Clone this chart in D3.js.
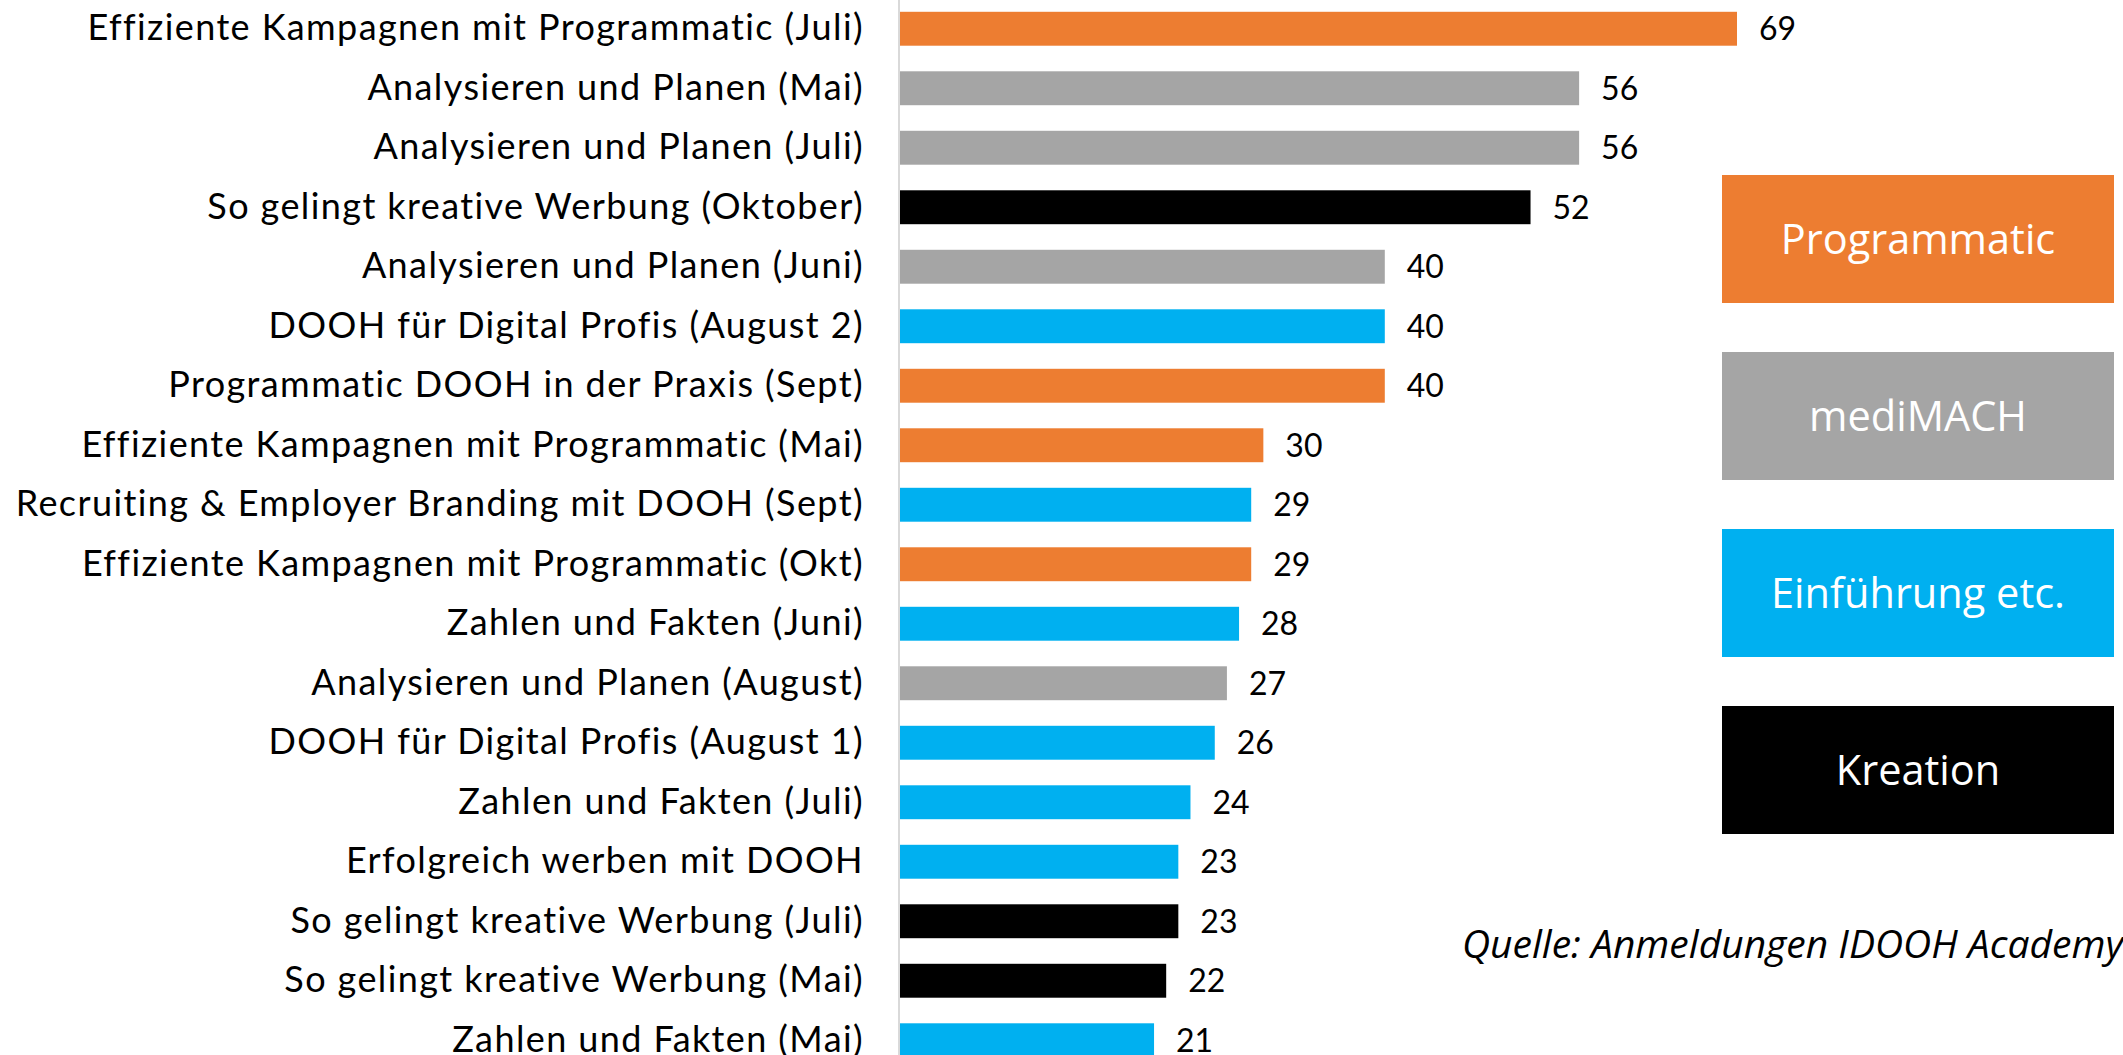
<!DOCTYPE html>
<html>
<head>
<meta charset="utf-8">
<script src="https://cdn.jsdelivr.net/npm/d3@7"></script>
<style>
    body { margin: 0; background: #fff; overflow: hidden; }
    svg { display: block; }
</style>
</head>
<body>
<div id="chart"></div>
<script>
// Kurse, sortiert nach Anmeldungen
const courses = [
    "Effiziente Kampagnen mit Programmatic (Juli)",
    "Analysieren und Planen (Mai)",
    "Analysieren und Planen (Juli)",
    "So gelingt kreative Werbung (Oktober)",
    "Analysieren und Planen (Juni)",
    "DOOH für Digital Profis (August 2)",
    "Programmatic DOOH in der Praxis (Sept)",
    "Effiziente Kampagnen mit Programmatic (Mai)",
    "Recruiting & Employer Branding mit DOOH (Sept)",
    "Effiziente Kampagnen mit Programmatic (Okt)",
    "Zahlen und Fakten (Juni)",
    "Analysieren und Planen (August)",
    "DOOH für Digital Profis (August 1)",
    "Zahlen und Fakten (Juli)",
    "Erfolgreich werben mit DOOH",
    "So gelingt kreative Werbung (Juli)",
    "So gelingt kreative Werbung (Mai)",
    "Zahlen und Fakten (Mai)"
];
const registrations = [69, 56, 56, 52, 40, 40, 40, 30, 29, 29, 28, 27, 26, 24, 23, 23, 22, 21];
const courseGroups = [
    "Programmatic", "mediMACH", "mediMACH", "Kreation", "mediMACH", "Einführung etc.",
    "Programmatic", "Programmatic", "Einführung etc.", "Programmatic", "Einführung etc.",
    "mediMACH", "Einführung etc.", "Einführung etc.", "Einführung etc.", "Kreation",
    "Kreation", "Einführung etc."
];
const groups = ["Programmatic", "mediMACH", "Einführung etc.", "Kreation"];
const groupColors = ["#ED7D31", "#A5A5A5", "#00B0F0", "#000000"];
const sourceNote = "Quelle: Anmeldungen IDOOH Academy";

const W = 2123, H = 1055;
const axisX = 899;

const data = courses.map((c, i) => ({ course: c, value: registrations[i], group: courseGroups[i] }));

const svg = d3.select("#chart")
    .append("svg")
    .attr("width", W)
    .attr("height", H);

const x = d3.scaleLinear()
    .domain([0, 69])
    .range([axisX, 1737]);

const y = d3.scaleBand()
    .domain(courses)
    .range([-1, 1070])
    .paddingInner(0.43)
    .paddingOuter(0.215);

const color = d3.scaleOrdinal()
    .domain(groups)
    .range(groupColors);

svg.selectAll(".bar")
    .data(data)
    .enter()
    .append("rect")
    .attr("class", "bar")
    .attr("x", x(0))
    .attr("y", d => y(d.course))
    .attr("width", d => x(d.value) - x(0))
    .attr("height", y.bandwidth())
    .attr("fill", d => color(d.group));

// category axis, only the line and labels
const yAxis = svg.append("g")
    .attr("transform", `translate(${axisX},0)`)
    .call(d3.axisLeft(y).tickSize(0).tickPadding(35));

yAxis.select(".domain")
    .attr("stroke", "#d9d9d9")
    .attr("stroke-width", 2)
    .attr("d", `M0,0V${H}`);

yAxis.selectAll("text")
    .attr("fill", "#000")
    .style("font-family", "Lato, sans-serif")
    .style("font-size", "36px")
    .style("letter-spacing", "1.4px");

svg.selectAll(".value")
    .data(data)
    .enter()
    .append("text")
    .attr("class", "value")
    .attr("x", d => x(d.value) + 22)
    .attr("y", d => y(d.course) + y.bandwidth() / 2)
    .attr("dy", "0.36em")
    .style("font-family", "Lato, sans-serif")
    .style("font-size", "32px")
    .text(d => d.value);

// legend boxes
const legend = svg.append("g")
    .attr("transform", "translate(1722,175)");

const legendItem = legend.selectAll("g")
    .data(groups)
    .enter()
    .append("g")
    .attr("transform", (d, i) => `translate(0,${i * 177})`);

legendItem.append("rect")
    .attr("width", 392)
    .attr("height", 128)
    .attr("fill", d => color(d));

legendItem.append("text")
    .attr("x", 196)
    .attr("y", 64)
    .attr("dy", "0.35em")
    .attr("text-anchor", "middle")
    .attr("fill", "#fff")
    .style("font-family", "'Open Sans', sans-serif")
    .style("font-size", "41.5px")
    .text(d => d);

svg.append("text")
    .attr("x", 1462)
    .attr("y", 958)
    .style("font-family", "'Open Sans', sans-serif")
    .style("font-style", "italic")
    .style("font-size", "39px")
    .text(sourceNote);
</script>
</body>
</html>
